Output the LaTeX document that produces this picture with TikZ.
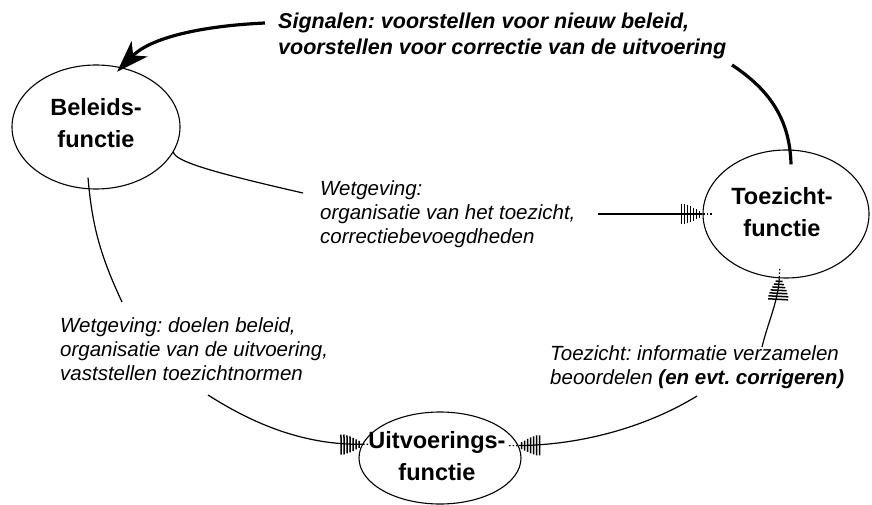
\documentclass[tikz,border=0pt]{standalone}
\usepackage{fontspec}
\setmainfont{Liberation Sans}
\usetikzlibrary{shapes.geometric,arrows.meta,decorations.markings,calc}
\frenchspacing
\begin{document}
\begin{tikzpicture}[x=1pt,y=-1pt,
  func/.style={draw, ellipse, line width=1.1pt, inner sep=0pt},
  title/.style={font=\bfseries\fontsize{23.5}{32}\selectfont, align=center, inner sep=0pt},
  lab/.style={font=\itshape\fontsize{20.5}{24}\selectfont, align=left, inner sep=0pt, anchor=north west},
  sig/.style={font=\bfseries\itshape\fontsize{21.5}{26}\selectfont, align=left, inner sep=0pt, anchor=north west},
  wire/.style={line width=1.2pt},
  heavy/.style={line width=3.2pt},
  % hatched arrow head: vertical bars shrinking towards a dotted tip
  hatchtip/.style={postaction={decorate, decoration={markings, mark=at position 1 with {
      \foreach \d/\h in {-21/10,-18/10,-15/9,-12/8,-9/6.5,-6/5,-3/3.5}
        {\draw[line width=1.5pt] (\d pt,-\h pt) -- (\d pt,\h pt);}
      \foreach \d in {1,4.5,8}
        {\draw[line width=1.2pt] (\d pt,0pt) -- (\d pt+1.5pt,0pt);}
  }}}}]
\useasboundingbox (0,0) rectangle (872,505);

% the three functions
\node[func, minimum width=168pt, minimum height=124pt] (bel) at (96,127) {};
\node[func, minimum width=166pt, minimum height=128pt] (toez) at (786,214) {};
\node[func, minimum width=162pt, minimum height=92pt] (uit) at (440,458) {};
\node[title] (belT) at (96,123) {Beleids-\\functie};
\node[title] (toezT) at (782,212) {Toezicht-\\functie};
\node[title] (uitT) at (437,456) {Uitvoerings-\\functie};

% labels on the connectors
\node[sig] (sigL) at (278,13) {Signalen: voorstellen voor nieuw beleid,\\voorstellen voor correctie van de uitvoering};
\node[lab] (labA) at (320,180) {Wetgeving:\\organisatie van het toezicht,\\correctiebevoegdheden};
\node[lab] (labC) at (60,317) {Wetgeving: doelen beleid,\\organisatie van de uitvoering,\\vaststellen toezichtnormen};
\node[lab] (labD) at (550,345) {Toezicht: informatie verzamelen\\beoordelen {\bfseries (en evt. corrigeren)}};

% loose ends of the connectors next to the labels
\coordinate (aIn) at (303,193);
\coordinate (aOut) at (598,214);
\coordinate (cIn) at (122,302);
\coordinate (cOut) at (208,395);
\coordinate (dOut) at (697,396);
\coordinate (dTop) at (762,347);
\coordinate (sIn) at (732,65);
\coordinate (sOut) at (265,23);
\coordinate (belLow) at ($(bel.south)+(-8,-12)$);
\coordinate (toezTop) at ($(toez.north)+(5,15)$);

% Wetgeving: beleid -> toezicht
\draw[wire] (bel.-18) .. controls (175,162) and (220,174) .. (aIn);
\draw[wire, hatchtip] (aOut) -- (toez.west);

% Wetgeving: beleid -> uitvoering
\draw[wire] (belLow) .. controls (92,225) and (100,255) .. (cIn);
\draw[wire, hatchtip] (cOut) .. controls (255,425) and (305,445) .. (uit.170.5);

% Toezicht: uitvoering <-> toezicht
\draw[wire, hatchtip] (dOut) .. controls (650,425) and (585,445) .. (uit.9.5);
\draw[wire, hatchtip] (dTop) .. controls (768,322) and (778,302) .. (toez.-96);

% Signalen: toezicht -> beleid
\draw[heavy] (toezTop) .. controls (790,120) and (770,90) .. (sIn);
\draw[heavy, -{Stealth[length=32pt,width=22pt,inset=9pt]}] (sOut) .. controls (200,26) and (150,38) .. ($(bel.69)+(-2,5)$);
\end{tikzpicture}
\end{document}
